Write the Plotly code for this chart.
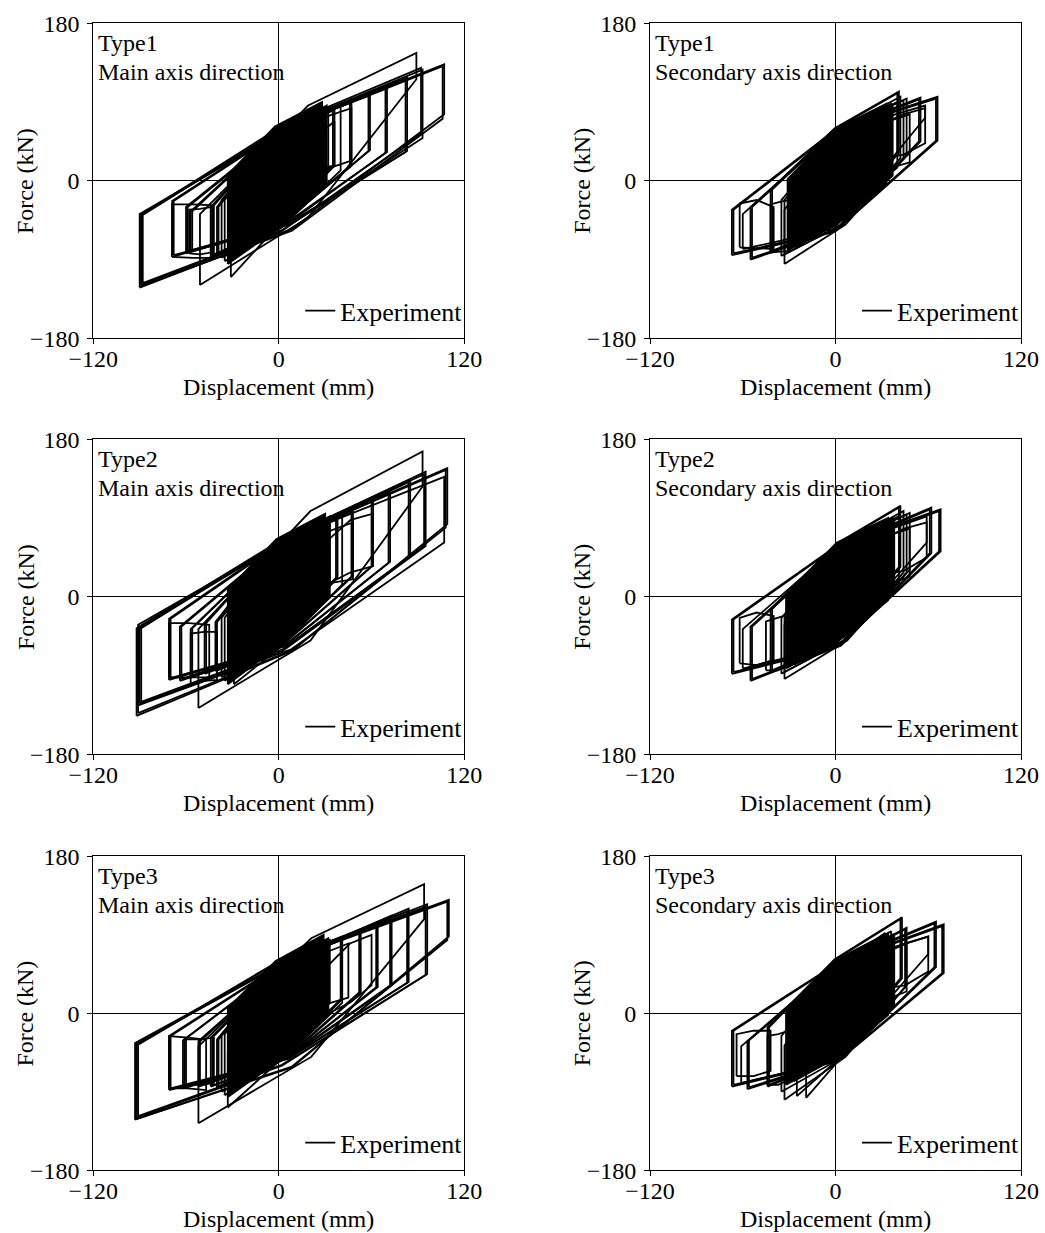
import plotly.graph_objects as go

# ---------------- data: one entry per hysteresis cycle ----------------
# d_neg / f_neg : negative reversal point, h_neg : height of the left (reloading) edge
# d_pos / f_pos : positive reversal point, h_pos : height of the right (unloading) edge
# f_up / f_lo   : force on the loading / unloading branch at mid displacement
# *_core_*      : the densely overlapping small cycles around the origin

# Type1 - main axis
t1m_dneg = [-90, -89, -51, -69, -60, -57, -44, -40, -31, -69, -58, 20, 28, -89, -88, -68, -59, -56, -43, -39, -35, -37]
t1m_fneg = [-122, -119, -119, -87, -83, -80, -87, -85, -110, -87, -83, 5, 12, -120, -117, -85, -82, -79, -85, -84, -92, -88]
t1m_hneg = [84, 80, 81, 64, 53, 45, 57, 55, 60, 60, 50, 60, 45, 82, 78, 62, 52, 44, 55, 54, 70, 66]
t1m_dpos = [107, 92, 89, 83, 70, 59, 47, 36, 26, -42, -44, 47, 36, 106, 93, 82, 69, 58, 46, 35, 32, 40]
t1m_fpos = [133, 129, 146, 118, 108, 100, 92, 82, 75, -28, -30, 83, 68, 131, 127, 115, 105, 97, 89, 80, 84, 88]
t1m_hpos = [57, 75, 30, 84, 75, 65, 75, 65, 55, 60, 52, 60, 50, 60, 78, 82, 73, 63, 72, 63, 72, 76]
t1m_fup = [64, 62, 86, 64, 62, 60, 60, 58, 55, -27, -32, 75, 62, 63, 61, 63, 61, 59, 59, 57, 58, 60]
t1m_flo = [-55, -58, -42, -48, -48, -50, -50, -52, -55, -88, -84, 15, 16, -57, -56, -50, -50, -51, -51, -53, -56, -54]
t1m_core_dneg = [-33, -28]
t1m_core_fneg = [-95, -86]
t1m_core_hneg = [102, 96]
t1m_core_dpos = [28, 31]
t1m_core_fpos = [90, 86]
t1m_core_hpos = [95, 88]
t1m_core_fup = [62, 58]
t1m_core_flo = [-57, -52]

# Type1 - secondary axis
t1s_dneg = [-67, -60, -55, -42, -33, -62, -42, 20, 30, -20, -15, -66, -54, -41, -35, -33]
t1s_fneg = [-85, -78, -90, -82, -95, -76, -82, 10, 25, -60, -55, -83, -88, -80, -86, -84]
t1s_hneg = [52, 40, 60, 72, 62, 50, 55, 45, 40, 55, 60, 50, 58, 70, 64, 62]
t1s_dpos = [66, 58, 55, 41, 46, -40, -30, 48, 58, 36, 40, 65, 54, 40, 44, 42]
t1s_fpos = [96, 86, 95, 102, 94, -30, -22, 76, 83, 88, 90, 94, 93, 100, 92, 96]
t1s_hpos = [50, 14, 50, 70, 65, 48, 58, 55, 40, 72, 75, 48, 48, 68, 66, 70]
t1s_fup = [58, 55, 57, 60, 62, -22, -24, 68, 76, 62, 66, 57, 56, 59, 60, 61]
t1s_flo = [-58, -55, -57, -52, -50, -77, -81, 14, 30, -30, -25, -57, -56, -51, -50, -50]
t1s_core_dneg = [-31, -26]
t1s_core_fneg = [-80, -76]
t1s_core_hneg = [82, 80]
t1s_core_dpos = [33, 37]
t1s_core_fpos = [88, 86]
t1s_core_hpos = [92, 80]
t1s_core_fup = [60, 62]
t1s_core_flo = [-48, -44]

# Type2 - main axis
t2m_dneg = [-92, -91, -52, -90, -71, -64, -57, -48, -41, -29, -71, -57, 20, 32, -91, -89, -70, -63, -56, -47, -40, -35, -37]
t2m_fneg = [-136, -124, -127, -122, -95, -96, -92, -88, -85, -100, -92, -100, 8, 15, -133, -120, -93, -94, -90, -86, -84, -96, -92]
t2m_hneg = [100, 92, 90, 88, 70, 62, 55, 58, 56, 62, 62, 58, 62, 50, 96, 84, 68, 60, 54, 56, 55, 72, 68]
t2m_dpos = [109, 107, 93, 95, 85, 72, 61, 48, 38, 30, -45, -40, 48, 61, 108, 94, 84, 71, 60, 47, 37, 33, 41]
t2m_fpos = [147, 137, 166, 143, 134, 122, 112, 100, 90, 82, -32, -40, 85, 95, 145, 140, 131, 119, 109, 97, 88, 88, 92]
t2m_hpos = [64, 75, 40, 85, 88, 82, 76, 76, 68, 60, 60, 55, 65, 60, 66, 82, 86, 80, 74, 74, 66, 74, 78]
t2m_fup = [70, 68, 98, 66, 70, 66, 64, 62, 60, 58, -30, -40, 76, 88, 69, 65, 68, 65, 63, 62, 59, 60, 62]
t2m_flo = [-62, -60, -50, -62, -55, -56, -56, -56, -56, -58, -92, -96, 16, 28, -61, -60, -54, -55, -55, -55, -55, -58, -56]
t2m_core_dneg = [-33, -28]
t2m_core_fneg = [-100, -90]
t2m_core_hneg = [108, 100]
t2m_core_dpos = [30, 33]
t2m_core_fpos = [95, 92]
t2m_core_hpos = [98, 90]
t2m_core_fup = [66, 62]
t2m_core_flo = [-58, -54]

# Type2 - secondary axis
t2s_dneg = [-67, -60, -55, -42, -33, -62, -45, 20, 30, -20, -15, -66, -54, -41, -35, -33]
t2s_fneg = [-88, -82, -96, -86, -94, -76, -84, 10, 25, -62, -57, -86, -94, -84, -88, -86]
t2s_hneg = [62, 45, 62, 72, 62, 52, 56, 45, 40, 56, 60, 60, 60, 70, 64, 62]
t2s_dpos = [68, 59, 62, 42, 48, -40, -30, 48, 59, 37, 41, 67, 61, 41, 46, 44]
t2s_fpos = [100, 92, 102, 104, 96, -22, -20, 78, 85, 90, 92, 98, 100, 102, 94, 98]
t2s_hpos = [48, 30, 52, 70, 65, 50, 56, 55, 40, 72, 76, 46, 50, 68, 66, 70]
t2s_fup = [58, 55, 58, 60, 62, -18, -24, 70, 78, 64, 68, 57, 57, 59, 60, 61]
t2s_flo = [-58, -56, -56, -54, -50, -78, -84, 14, 30, -30, -25, -57, -55, -53, -50, -50]
t2s_core_dneg = [-32, -27]
t2s_core_fneg = [-82, -78]
t2s_core_hneg = [84, 82]
t2s_core_dpos = [34, 38]
t2s_core_fpos = [90, 88]
t2s_core_hpos = [94, 82]
t2s_core_fup = [62, 64]
t2s_core_flo = [-50, -46]

# Type3 - main axis
t3m_dneg = [-93, -92, -52, -71, -62, -52, -44, -40, -33, -71, -60, 22, 32, -92, -91, -70, -61, -51, -43, -39, -35, -37]
t3m_fneg = [-122, -120, -126, -88, -86, -84, -84, -85, -108, -86, -82, 5, 0, -121, -118, -86, -84, -82, -83, -84, -94, -90]
t3m_hneg = [88, 84, 88, 62, 55, 52, 56, 55, 62, 60, 52, 60, 55, 86, 82, 60, 54, 50, 55, 54, 70, 66]
t3m_dpos = [110, 96, 94, 84, 73, 64, 53, 41, 32, -47, -42, 45, 60, 109, 95, 83, 72, 63, 52, 40, 33, 41]
t3m_fpos = [130, 125, 148, 120, 112, 104, 96, 86, 76, -30, -28, 80, 90, 128, 122, 117, 110, 102, 94, 84, 84, 88]
t3m_hpos = [42, 80, 40, 84, 80, 74, 72, 70, 64, 58, 52, 62, 58, 44, 78, 82, 78, 72, 70, 68, 72, 76]
t3m_fup = [64, 62, 86, 62, 60, 59, 58, 56, 54, -28, -30, 72, 80, 63, 61, 61, 59, 58, 57, 55, 56, 58]
t3m_flo = [-62, -60, -50, -52, -52, -50, -52, -54, -56, -86, -82, 12, 12, -61, -59, -51, -51, -50, -51, -53, -56, -54]
t3m_core_dneg = [-33, -28]
t3m_core_fneg = [-96, -88]
t3m_core_hneg = [102, 96]
t3m_core_dpos = [29, 32]
t3m_core_fpos = [90, 86]
t3m_core_hpos = [95, 88]
t3m_core_fup = [60, 57]
t3m_core_flo = [-57, -52]

# Type3 - secondary axis
t3s_dneg = [-67, -61, -57, -44, -33, -19, -64, -44, 20, 30, -20, -66, -56, -43, -35, -25]
t3s_fneg = [-84, -80, -87, -84, -99, -97, -72, -82, 12, 28, -62, -82, -85, -82, -90, -95]
t3s_hneg = [64, 42, 55, 68, 62, 70, 48, 56, 45, 40, 56, 62, 54, 66, 64, 68]
t3s_dpos = [70, 60, 65, 43, 46, 32, -42, -30, 46, 60, 37, 69, 64, 42, 45, 36]
t3s_fpos = [102, 88, 105, 110, 98, 92, -20, -20, 80, 88, 90, 100, 103, 108, 96, 94]
t3s_hpos = [56, 20, 52, 70, 66, 72, 46, 56, 55, 40, 72, 54, 50, 68, 66, 70]
t3s_fup = [58, 55, 60, 62, 62, 60, -20, -24, 70, 80, 64, 57, 59, 61, 60, 60]
t3s_flo = [-55, -55, -52, -52, -50, -45, -72, -82, 16, 32, -30, -54, -51, -51, -50, -47]
t3s_core_dneg = [-32, -27]
t3s_core_fneg = [-82, -78]
t3s_core_hneg = [84, 82]
t3s_core_dpos = [34, 38]
t3s_core_fpos = [92, 90]
t3s_core_hpos = [94, 82]
t3s_core_fup = [62, 64]
t3s_core_flo = [-50, -46]

panel_types = ["Type1", "Type1", "Type2", "Type2", "Type3", "Type3"]
panel_dirs = ["Main axis direction", "Secondary axis direction"] * 3
series_name = "Experiment"
x_title = "Displacement (mm)"
y_title = "Force (kN)"
x_ticks = [-120, 0, 120]
x_ticktext = ["\u2212120", "0", "120"]
y_ticks = [-180, 0, 180]
y_ticktext = ["\u2212180", "0", "180"]

panels = [
    ((t1m_dneg, t1m_fneg, t1m_hneg, t1m_dpos, t1m_fpos, t1m_hpos, t1m_fup, t1m_flo),
     (t1m_core_dneg, t1m_core_fneg, t1m_core_hneg, t1m_core_dpos, t1m_core_fpos, t1m_core_hpos, t1m_core_fup, t1m_core_flo)),
    ((t1s_dneg, t1s_fneg, t1s_hneg, t1s_dpos, t1s_fpos, t1s_hpos, t1s_fup, t1s_flo),
     (t1s_core_dneg, t1s_core_fneg, t1s_core_hneg, t1s_core_dpos, t1s_core_fpos, t1s_core_hpos, t1s_core_fup, t1s_core_flo)),
    ((t2m_dneg, t2m_fneg, t2m_hneg, t2m_dpos, t2m_fpos, t2m_hpos, t2m_fup, t2m_flo),
     (t2m_core_dneg, t2m_core_fneg, t2m_core_hneg, t2m_core_dpos, t2m_core_fpos, t2m_core_hpos, t2m_core_fup, t2m_core_flo)),
    ((t2s_dneg, t2s_fneg, t2s_hneg, t2s_dpos, t2s_fpos, t2s_hpos, t2s_fup, t2s_flo),
     (t2s_core_dneg, t2s_core_fneg, t2s_core_hneg, t2s_core_dpos, t2s_core_fpos, t2s_core_hpos, t2s_core_fup, t2s_core_flo)),
    ((t3m_dneg, t3m_fneg, t3m_hneg, t3m_dpos, t3m_fpos, t3m_hpos, t3m_fup, t3m_flo),
     (t3m_core_dneg, t3m_core_fneg, t3m_core_hneg, t3m_core_dpos, t3m_core_fpos, t3m_core_hpos, t3m_core_fup, t3m_core_flo)),
    ((t3s_dneg, t3s_fneg, t3s_hneg, t3s_dpos, t3s_fpos, t3s_hpos, t3s_fup, t3s_flo),
     (t3s_core_dneg, t3s_core_fneg, t3s_core_hneg, t3s_core_dpos, t3s_core_fpos, t3s_core_hpos, t3s_core_fup, t3s_core_flo)),
]


def loops(dneg, fneg, hneg, dpos, fpos, hpos, fup, flo):
    xs, ys = [], []
    for dn, fn, hn, dp, fp, hp, fu, fl in zip(dneg, fneg, hneg, dpos, fpos, hpos, fup, flo):
        xm = (dn + dp) / 2.0
        xs += [dn, dn, xm, dp, dp, xm, dn, None]
        ys += [fn, fn + hn, fu, fp, fp - hp, fl, fn, None]
    return xs, ys


# ---------------- layout ----------------
W, H = 1045, 1233
col_dom = [[93.3 / W, 464.3 / W], [650.0 / W, 1021.0 / W]]
row_dom = [[1 - 338.3 / H, 1 - 23.3 / H],
           [1 - 754.3 / H, 1 - 439.3 / H],
           [1 - 1170.3 / H, 1 - 856.3 / H]]

FONT = "Liberation Serif, Times New Roman, serif"
fig = go.Figure()
layout = dict(width=W, height=H, margin=dict(l=0, r=0, t=0, b=0, autoexpand=False),
              paper_bgcolor="white", plot_bgcolor="white",
              font=dict(family=FONT, size=24, color="black"))
annotations = []

for i, (main_cycles, core_cycles) in enumerate(panels):
    r, cidx = divmod(i, 2)
    sfx = "" if i == 0 else str(i + 1)
    leg = "legend" + sfx
    cx, cy = loops(*core_cycles)
    fig.add_trace(go.Scatter(x=cx, y=cy, mode="lines", fill="toself",
                             fillcolor="black", line=dict(color="black", width=1.8),
                             xaxis="x" + sfx, yaxis="y" + sfx, legend=leg,
                             showlegend=False, hoverinfo="skip"))
    xs, ys = loops(*main_cycles)
    fig.add_trace(go.Scatter(x=xs, y=ys, mode="lines", name=series_name,
                             line=dict(color="black", width=1.8),
                             xaxis="x" + sfx, yaxis="y" + sfx,
                             legend=leg, showlegend=True, hoverinfo="skip"))
    common = dict(showline=True, mirror=True, linecolor="black", linewidth=1,
                  ticks="outside", ticklen=5, tickcolor="black", tickwidth=1,
                  showgrid=False, zeroline=True, zerolinecolor="black",
                  zerolinewidth=1, automargin=False,
                  tickfont=dict(family=FONT, size=24, color="black"))
    layout["xaxis" + sfx] = dict(domain=col_dom[cidx], anchor="y" + sfx,
                                 range=[-120, 120], tickvals=x_ticks, ticktext=x_ticktext,
                                 ticklabelstandoff=-6, **common)
    layout["yaxis" + sfx] = dict(domain=row_dom[r], anchor="x" + sfx,
                                 range=[-180, 180], tickvals=y_ticks, ticktext=y_ticktext,
                                 ticklabelstandoff=3, **common)
    layout[leg] = dict(x=col_dom[cidx][1] + 4.0 / W, y=row_dom[r][0] + 4.0 / H,
                       xanchor="right", yanchor="bottom", bgcolor="rgba(0,0,0,0)",
                       borderwidth=0, font=dict(family=FONT, size=26, color="black"),
                       itemwidth=30)
    xd = "x" + sfx + " domain"
    yd = "y" + sfx + " domain"
    annotations.append(dict(text=panel_types[i], xref=xd, yref=yd, x=0, y=1,
                            xanchor="left", yanchor="middle", xshift=3, yshift=-20,
                            showarrow=False, font=dict(family=FONT, size=24, color="black")))
    annotations.append(dict(text=panel_dirs[i], xref=xd, yref=yd, x=0, y=1,
                            xanchor="left", yanchor="middle", xshift=3, yshift=-49,
                            showarrow=False, font=dict(family=FONT, size=24, color="black")))
    annotations.append(dict(text=x_title, xref=xd, yref=yd, x=0.5, y=0,
                            xanchor="center", yanchor="middle", yshift=-49,
                            showarrow=False, font=dict(family=FONT, size=24, color="black")))
    annotations.append(dict(text=y_title, xref=xd, yref=yd, x=0, y=0.5,
                            xanchor="center", yanchor="middle", xshift=-68, textangle=-90,
                            showarrow=False, font=dict(family=FONT, size=24, color="black")))

layout["annotations"] = annotations
fig.update_layout(**layout)
fig.write_html("out.html",
               config={"displayModeBar": False},
               post_script="document.body.style.margin='0px';"
                           "document.body.style.padding='0px';"
                           "document.documentElement.style.overflow='hidden';")
